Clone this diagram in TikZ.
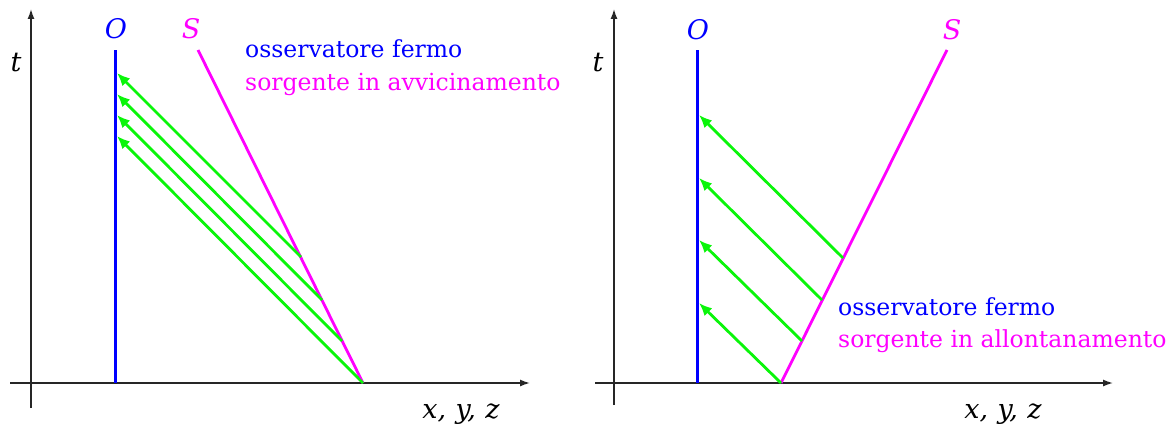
\documentclass[tikz,border=0pt]{standalone}
\usepackage{fontspec}
\setmainfont{DejaVu Serif}
\usetikzlibrary{arrows.meta}
\definecolor{obsblue}{RGB}{0,0,255}
\definecolor{srcmag}{RGB}{255,0,255}
\definecolor{sigreen}{RGB}{10,245,10}
\tikzset{
  axis/.style={line width=1.4pt, draw=black!85, -{Latex[length=10pt,width=7pt]}},
  obsline/.style={line width=3pt, draw=obsblue},
  srcline/.style={line width=2.8pt, draw=srcmag},
  signal/.style={line width=2.8pt, draw=sigreen, -{Latex[length=13pt,width=11pt]}},
  lbl/.style={inner sep=0pt, anchor=base, font=\fontsize{27}{30}\selectfont\itshape},
  txt/.style={inner sep=0pt, anchor=base west, font=\fontsize{23.5}{27}\selectfont},
}
\begin{document}
\begin{tikzpicture}[x=1pt,y=-1pt]
\useasboundingbox (0,0) rectangle (1169,428);
% ---------- left panel ----------
\coordinate (Lvb) at (31,408); \coordinate (Lvt) at (31,9);
\coordinate (Lhl) at (10,383); \coordinate (Lhr) at (530,383);
\draw[axis] (Lvb) -- (Lvt);
\draw[axis] (Lhl) -- (Lhr);
\coordinate (LOt) at (115,50); \coordinate (LOb) at (115,383);
\coordinate (LSt) at (198,50); \coordinate (LSb) at (363,383);
\draw[obsline] (LOb) -- (LOt);
\draw[srcline] (LSb) -- (LSt);
\coordinate (La1) at (363,383); \coordinate (Lb1) at (117,136);
\coordinate (La2) at (342,341); \coordinate (Lb2) at (117,115);
\coordinate (La3) at (322,300); \coordinate (Lb3) at (117,94);
\coordinate (La4) at (301,257); \coordinate (Lb4) at (117,73);
\foreach \i in {1,2,3,4} \draw[signal] (La\i) -- (Lb\i);
\node[lbl, text=obsblue] (LO) at (116,39) {O};
\node[lbl, text=srcmag] (LS) at (191,39) {S};
\node[lbl] (Lt) at (16,71) {t};
\node[lbl] (Lx) at (461,418) {x,\hspace{0.35em}y,\hspace{0.35em}z};
\node[txt, text=obsblue] (Ltx1) at (245,58) {osservatore fermo};
\node[txt, text=srcmag] (Ltx2) at (245,90) {sorgente in avvicinamento};
% ---------- right panel ----------
\coordinate (Rvb) at (614,405); \coordinate (Rvt) at (614,9);
\coordinate (Rhl) at (595,383); \coordinate (Rhr) at (1113,383);
\draw[axis] (Rvb) -- (Rvt);
\draw[axis] (Rhl) -- (Rhr);
\coordinate (ROt) at (697,50); \coordinate (ROb) at (697,383);
\coordinate (RSb) at (781,383); \coordinate (RSt) at (947,50);
\draw[obsline] (ROb) -- (ROt);
\draw[srcline] (RSb) -- (RSt);
\coordinate (Ra1) at (781,383); \coordinate (Rb1) at (699,303);
\coordinate (Ra2) at (802,341); \coordinate (Rb2) at (699,240);
\coordinate (Ra3) at (822,300); \coordinate (Rb3) at (699,178);
\coordinate (Ra4) at (843,258); \coordinate (Rb4) at (699,115);
\foreach \i in {1,2,3,4} \draw[signal] (Ra\i) -- (Rb\i);
\node[lbl, text=obsblue] (RO) at (698,40) {O};
\node[lbl, text=srcmag] (RS) at (952,40) {S};
\node[lbl] (Rt) at (598,71) {t};
\node[lbl] (Rx) at (1003,418) {x,\hspace{0.35em}y,\hspace{0.35em}z};
\node[txt, text=obsblue] (Rtx1) at (838,315) {osservatore fermo};
\node[txt, text=srcmag] (Rtx2) at (838,347) {sorgente in allontanamento};
\end{tikzpicture}
\end{document}
